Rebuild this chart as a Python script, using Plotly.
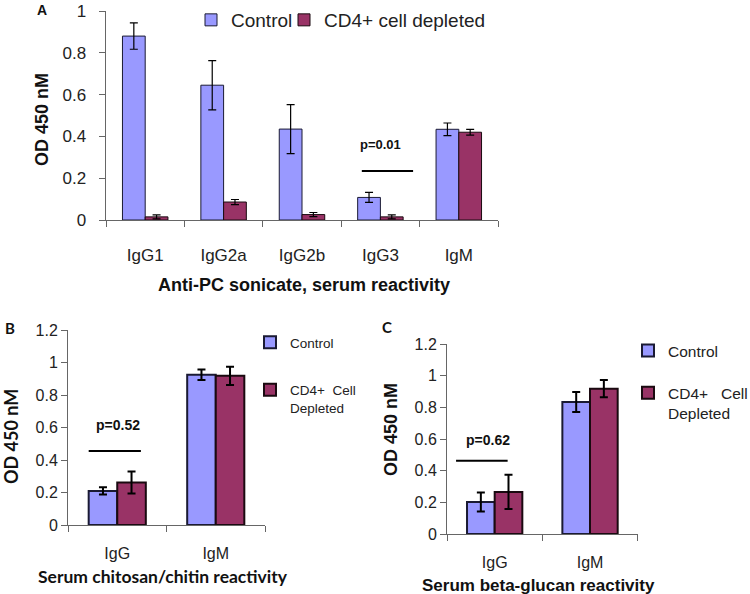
import plotly.graph_objects as go

# ---------------- data ----------------
a_categories = ["IgG1", "IgG2a", "IgG2b", "IgG3", "IgM"]
a_control = [0.88, 0.645, 0.435, 0.108, 0.434]
a_control_err = [0.063, 0.118, 0.117, 0.024, 0.03]
a_cd4 = [0.015, 0.086, 0.026, 0.015, 0.42]
a_cd4_err = [0.01, 0.012, 0.01, 0.01, 0.014]

b_categories = ["IgG", "IgM"]
b_control = [0.21, 0.925]
b_control_err = [0.022, 0.032]
b_cd4 = [0.262, 0.918]
b_cd4_err = [0.068, 0.056]

c_categories = ["IgG", "IgM"]
c_control = [0.202, 0.834]
c_control_err = [0.06, 0.063]
c_cd4 = [0.266, 0.918]
c_cd4_err = [0.108, 0.055]

a_ticks = [0, 0.2, 0.4, 0.6, 0.8, 1]
a_ticklabels = ["0", "0.2", "0.4", "0.6", "0.8", "1"]
bc_ticks = [0, 0.2, 0.4, 0.6, 0.8, 1.0, 1.2]
bc_ticklabels = ["0", "0.2", "0.4", "0.6", "0.8", "1", "1.2"]

# significance markers: (category, p-text, line level, text level)
a_sig = ("IgG3", "p=0.01", 0.235, 0.36)
b_sig = ("IgG", "p=0.52", 0.455, 0.615)
c_sig = ("IgG", "p=0.62", 0.463, 0.594)

CONTROL = "#9999FF"
CD4 = "#993366"
FONT = "Liberation Sans, Arial, sans-serif"
PAD = "\u00a0\u00a0"  # extra gap between panel A tick labels and axis

fig = go.Figure()

def add_pair(cats, ctl, ctl_e, cd4, cd4_e, xa, ya, lgs, names, lw, ew, tag):
    fig.add_trace(go.Bar(
        x=cats, y=ctl, name=names[0], xaxis=xa, yaxis=ya, legend=lgs[0],
        legendgroup=tag + "ctl", showlegend=True,
        marker=dict(color=CONTROL, line=dict(color="#1a1a33", width=lw)),
        error_y=dict(type="data", array=ctl_e, color="black", thickness=ew, width=4),
    ))
    fig.add_trace(go.Bar(
        x=cats, y=cd4, name=names[1], xaxis=xa, yaxis=ya, legend=lgs[1],
        legendgroup=tag + "cd4", showlegend=True,
        marker=dict(color=CD4, line=dict(color="#1a0a10", width=lw)),
        error_y=dict(type="data", array=cd4_e, color="black", thickness=ew, width=4),
    ))

add_pair(a_categories, a_control, a_control_err, a_cd4, a_cd4_err, "x", "y",
         ["legend", "legend4"], ["Control", "CD4+ cell depleted"], 1, 1.2, "a")
add_pair(b_categories, b_control, b_control_err, b_cd4, b_cd4_err, "x2", "y2",
         ["legend2", "legend2"], ["Control", "CD4+  Cell<br>Depleted"], 2, 2, "b")
add_pair(c_categories, c_control, c_control_err, c_cd4, c_cd4_err, "x3", "y3",
         ["legend3", "legend3"], ["Control", "CD4+   Cell<br>Depleted"], 2, 2, "c")

W, H = 750, 594
def px(v): return v / W
def py(v): return 1 - v / H

axis_common = dict(showgrid=False, zeroline=False, showline=True, ticks="outside",
                   ticklen=6, tickcolor="#666666", linecolor="#666666", linewidth=1)

fig.update_layout(
    width=W, height=H, margin=dict(l=0, r=0, t=0, b=0, autoexpand=False),
    paper_bgcolor="white", plot_bgcolor="white", showlegend=True,
    barmode="group", bargap=0.42, bargroupgap=0,
    font=dict(family=FONT, color="#222222"),
    xaxis=dict(domain=[px(106), px(498)], anchor="y", type="category",
               range=[-0.5, 4.5], tickson="boundaries", ticklabelstandoff=20,
               tickfont=dict(size=17), **axis_common),
    yaxis=dict(domain=[py(220), py(11)], anchor="x", range=[0, 1],
               tickvals=a_ticks, ticktext=[t + PAD for t in a_ticklabels],
               tickfont=dict(size=17), **axis_common),
    xaxis2=dict(domain=[px(68), px(265)], anchor="y2", type="category",
                range=[-0.5, 1.5], tickson="boundaries", ticklabelstandoff=14,
                tickfont=dict(size=16), **axis_common),
    yaxis2=dict(domain=[py(525), py(330)], anchor="x2", range=[0, 1.2],
                tickvals=bc_ticks, ticktext=bc_ticklabels, tickfont=dict(size=16),
                **axis_common),
    xaxis3=dict(domain=[px(447), px(637.7)], anchor="y3", type="category",
                range=[-0.5, 1.5], tickson="boundaries", ticklabelstandoff=14,
                tickfont=dict(size=16), **axis_common),
    yaxis3=dict(domain=[py(534), py(344)], anchor="x3", range=[0, 1.2],
                tickvals=bc_ticks, ticktext=bc_ticklabels, tickfont=dict(size=16),
                **axis_common),
    legend=dict(x=px(191), y=py(1), xanchor="left", yanchor="top",
                font=dict(size=19), bgcolor="rgba(0,0,0,0)", itemwidth=30),
    legend4=dict(x=px(284), y=py(1), xanchor="left", yanchor="top",
                 font=dict(size=19), bgcolor="rgba(0,0,0,0)", itemwidth=30),
    legend2=dict(x=px(250), y=py(327), xanchor="left", yanchor="top",
                 font=dict(size=13.5), bgcolor="rgba(0,0,0,0)", tracegroupgap=27,
                 traceorder="grouped", valign="top", itemwidth=30),
    legend3=dict(x=px(628), y=py(334), xanchor="left", yanchor="top",
                 font=dict(size=15.5), bgcolor="rgba(0,0,0,0)", tracegroupgap=19,
                 traceorder="grouped", valign="top", itemwidth=30),
)

# significance lines and labels
def sig(xa, ya, cats, s, dx0, dx1, dtext, size):
    idx = cats.index(s[0])
    fig.add_shape(type="line", xref=xa, yref=ya, x0=idx + dx0, x1=idx + dx1,
                  y0=s[2], y1=s[2], line=dict(color="black", width=2))
    fig.add_annotation(xref=xa, yref=ya, x=idx + dtext, y=s[3], text="<b>%s</b>" % s[1],
                       showarrow=False, font=dict(size=size, color="#111111"))

sig("x", "y", a_categories, a_sig, -0.237, 0.417, 0.0, 13)
sig("x2", "y2", b_categories, b_sig, -0.29, 0.24, 0.01, 14)
sig("x3", "y3", c_categories, c_sig, -0.405, 0.136, -0.07, 14)

# panel letters and titles
def ann(x, y, text, size, family=FONT, angle=0):
    fig.add_annotation(xref="paper", yref="paper", x=px(x), y=py(y), text=text,
                       showarrow=False, textangle=angle, xanchor="center", yanchor="middle",
                       font=dict(size=size, family=family, color="#111111"))

ann(42, 10, "<b>A</b>", 14)
ann(10, 328, "<b>B</b>", 15, "Lato, sans-serif")
ann(387, 327, "<b>C</b>", 15, "Lato, sans-serif")

ann(42, 120, "<b>OD 450 nM</b>", 18, angle=-90)
ann(11, 437, "<b>OD 450 nM</b>", 18, "Lato, sans-serif", angle=-90)
ann(391, 430, "<b>OD 450 nM</b>", 18, angle=-90)

ann(304, 285, "<b>Anti-PC sonicate, serum reactivity</b>", 18)
ann(163, 576, "<b>Serum chitosan/chitin reactivity</b>", 17.5, "Lato, sans-serif")
ann(538, 585, "<b>Serum beta-glucan reactivity</b>", 17)

fig.write_html("out.html", config={"displayModeBar": False},
               post_script="document.body.style.margin='0px';")
